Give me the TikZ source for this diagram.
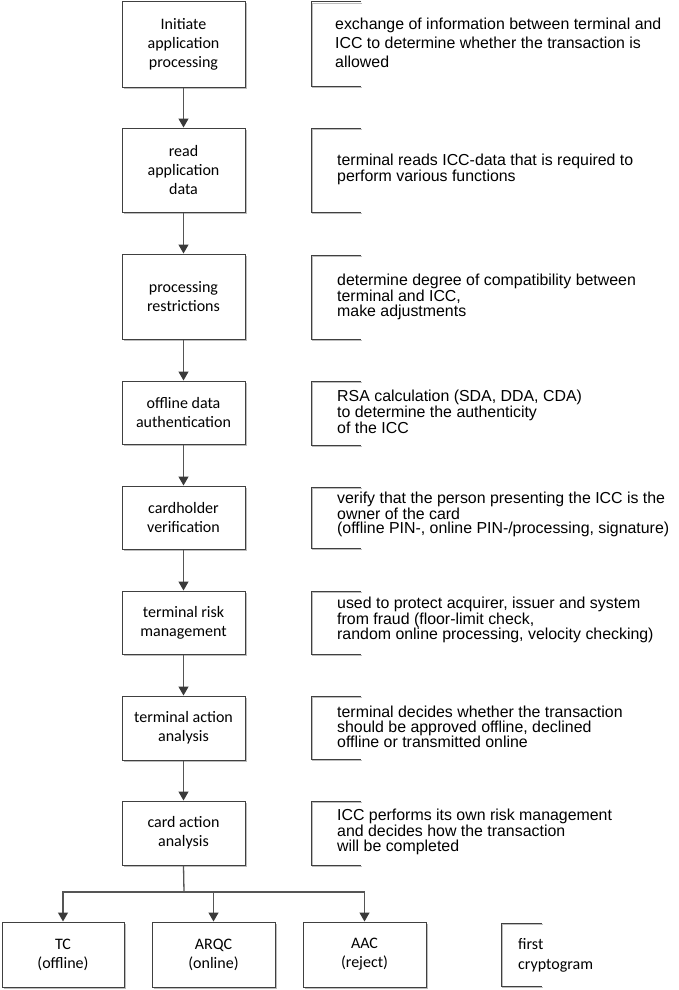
\documentclass[tikz,border=0pt]{standalone}
\usepackage{fontspec}
\setmainfont{Carlito}
\newfontfamily\annotfont{Liberation Sans}
\usetikzlibrary{arrows.meta,shadows}
\definecolor{boxline}{HTML}{404040}
\definecolor{connc}{HTML}{555555}
\definecolor{tipc}{HTML}{3A3A3A}
\definecolor{shade}{HTML}{BDBDBD}
\tikzset{
  stepbox/.style={draw=boxline, line width=1pt, fill=white, rectangle, inner sep=0pt,
    minimum width=123pt, align=center, font=\fontsize{16}{19}\selectfont,
    drop shadow={shadow xshift=1.5pt, shadow yshift=-1.5pt, fill=shade, opacity=1}},
  connline/.style={draw=connc, line width=1.3pt},
  arr/.style={connline, -{Triangle[length=9pt,width=10pt,fill=tipc,color=tipc]}},
  note/.style={anchor=west, align=left, inner sep=0pt, font=\annotfont\fontsize{15.9}{14.6}\selectfont},
  brk/.style={draw=boxline, line width=1pt},
  brkshade/.style={draw=shade, line width=1.5pt},
}
\newcommand{\bracketat}[2]{%
  \draw[brkshade] (362,#1+1.5) -- (312.5,#1+1.5) -- (312.5,#2+1.5) -- (362,#2+1.5);
  \draw[brk] (361,#1) -- (311,#1) -- (311,#2) -- (361,#2);}
\begin{document}
\begin{tikzpicture}[x=1pt,y=-1pt]
\useasboundingbox (0,0) rectangle (679,990);
% main steps
\node[stepbox, minimum height=85pt] (b1) at (183.5,44.5) {Initiate\\application\\processing};
\node[stepbox, minimum height=84pt] (b2) at (183.5,170) {read\\application\\data};
\node[stepbox, minimum height=85pt] (b3) at (183.5,296.5) {processing\\restrictions};
\node[stepbox, minimum height=63pt] (b4) at (183.5,412.5) {offline data\\authentication};
\node[stepbox, minimum height=63pt] (b5) at (183.5,517.5) {cardholder\\verification};
\node[stepbox, minimum height=63pt] (b6) at (183.5,622.5) {terminal risk\\management};
\node[stepbox, minimum height=64pt] (b7) at (183.5,728) {terminal action\\analysis};
\node[stepbox, minimum height=64pt] (b8) at (183.5,833) {card action\\analysis};
% results
\node[stepbox, minimum height=65pt, minimum width=122pt] (tc) at (63,954.5) {TC\\(offline)};
\node[stepbox, minimum height=65pt] (arqc) at (213.5,954.5) {ARQC\\(online)};
\node[stepbox, minimum height=65pt] (aac) at (364.5,954.5) {AAC\\(reject)};
% connectors
\draw[arr] (b1) -- (b2);
\draw[arr] (b2) -- (b3);
\draw[arr] (b3) -- (b4);
\draw[arr] (b4) -- (b5);
\draw[arr] (b5) -- (b6);
\draw[arr] (b6) -- (b7);
\draw[arr] (b7) -- (b8);
\coordinate (split) at (184,892);
\draw[connline] (b8.south) -- (split);
\draw[arr] (split) -| (tc.north);
\draw[arr] (split) -| (aac.north);
\draw[arr] (arqc.north |- split) -- (arqc.north);
% annotations
\bracketat{2}{86}
\node[note, font=\annotfont\fontsize{15.9}{19}\selectfont] (n1) at (335,43) {exchange of information between terminal and\\ICC to determine whether the transaction is\\allowed};
\bracketat{128}{212}
\node[note] (n2) at (337,169.5) {terminal reads ICC-data that is required to\\perform various functions};
\bracketat{255}{339}
\node[note] (n3) at (337,297) {determine degree of compatibility between\\terminal and ICC,\\make adjustments};
\bracketat{381}{445}
\node[note] (n4) at (337,411.5) {RSA calculation (SDA, DDA, CDA)\\to determine the authenticity\\of the ICC};
\bracketat{487}{548}
\node[note] (n5) at (337,514.5) {verify that the person presenting the ICC is the\\owner of the card\\(offline PIN-, online PIN-/processing, signature)};
\bracketat{591}{654}
\node[note] (n6) at (337,620) {used to protect acquirer, issuer and system\\from fraud (floor-limit check,\\random online processing, velocity checking)};
\bracketat{696}{759}
\node[note] (n7) at (337,727) {terminal decides whether the transaction\\should be approved offline, declined\\offline or transmitted online};
\bracketat{801}{865}
\node[note] (n8) at (337,832) {ICC performs its own risk management\\and decides how the transaction\\will be completed};
% first cryptogram bracket
\draw[brkshade] (543,924.5) -- (502.5,924.5) -- (502.5,987.5) -- (543,987.5);
\draw[brk] (542,923) -- (501,923) -- (501,986) -- (542,986);
\node[anchor=west, align=left, inner sep=0pt, font=\fontsize{16}{20}\selectfont] (fc) at (518,955) {first\\cryptogram};
\end{tikzpicture}
\end{document}
